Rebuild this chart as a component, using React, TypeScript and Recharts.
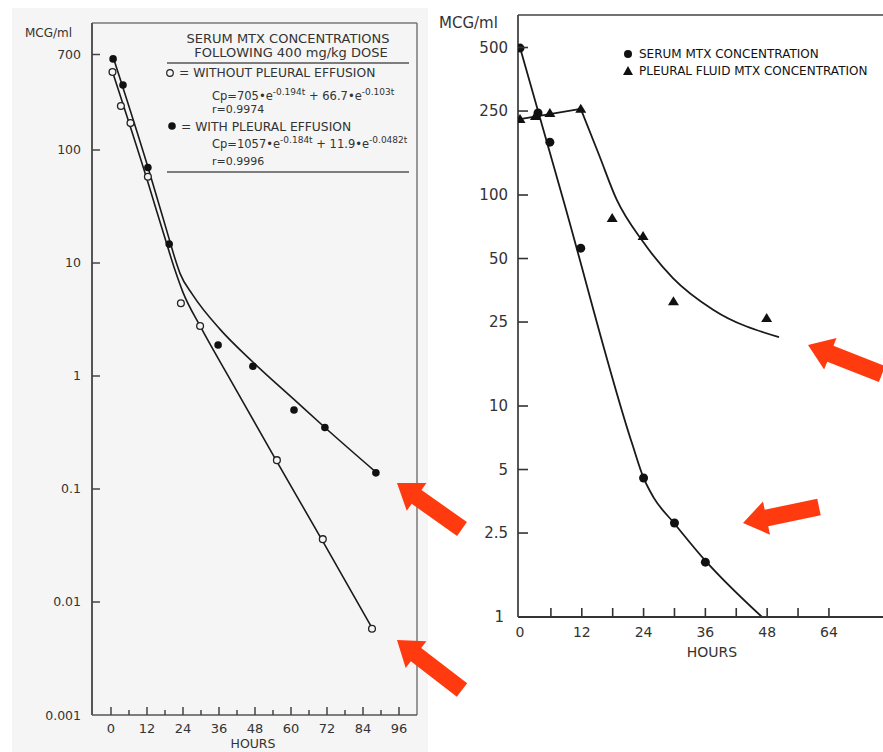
import React from 'react';
import { ComposedChart, Line, Scatter, XAxis, YAxis, ReferenceLine } from 'recharts';

// ---- left panel: serum MTX after 400 mg/kg, log scale ----
const leftOpenHours = [0.5, 3.3, 6.5, 12.3, 23.3, 29.7, 55.3, 70.6, 87];
const leftOpenConc = [490, 245, 173, 58, 4.4, 2.77, 0.18, 0.036, 0.0058];
const leftFilledHours = [0.7, 4, 12.3, 19.4, 35.7, 47.3, 61, 71.3, 88.3];
const leftFilledConc = [640, 376, 70, 14.7, 1.88, 1.22, 0.5, 0.35, 0.139];

// fitted curves as drawn on the plot
const leftOpenFitHours = [0.3, 12, 18.7, 21.3, 24, 29.7, 40, 55.3, 70.7, 87];
const leftOpenFitConc = [510, 55, 14.4, 8.7, 5.5, 2.77, 0.905, 0.175, 0.034, 0.0059];
const leftFilledFitHours = [0.7, 12.3, 19.7, 21.3, 23, 27.3, 36.3, 47.3, 61, 71.3, 88.3];
const leftFilledFitConc = [665, 70.7, 15.3, 11, 8.1, 5.2, 2.6, 1.33, 0.62, 0.35, 0.141];

const leftXTicks = [0, 6, 12, 18, 24, 30, 36, 42, 48, 54, 60, 66, 72, 78, 84, 90, 96];
const leftYTicks = [0.001, 0.01, 0.1, 1, 10, 100, 700];

// ---- right panel: serum vs pleural fluid ----
const rightSerumHours = [0, 3.5, 5.8, 11.8, 24, 30, 36];
const rightSerumConc = [497, 245, 178, 56, 4.56, 2.79, 1.82];
const rightPleuralHours = [0, 3, 5.8, 11.8, 17.9, 23.9, 29.8, 47.9];
const rightPleuralConc = [229, 237, 245, 256, 77.8, 64, 31.4, 26.1];

const serumFitHours = [0, 8.4, 21.8, 24, 25.9, 29.9, 35.9, 47];
const serumFitConc = [500, 95, 6.6, 4.56, 3.7, 2.79, 1.86, 1];
const pleuralRiseHours = [0, 11.8];
const pleuralRiseConc = [229, 256];
const pleuralFallHours = [11.8, 15.3, 18.8, 23.9, 29.7, 37.5, 50.3];
const pleuralFallConc = [256, 156, 94.7, 60, 40.4, 28.6, 21.2];

const rightXTicks = [0, 6, 12, 18, 24, 30, 36, 42, 48, 54, 60];
const rightXLabels: Record<number, string> = { 0: '0', 12: '12', 24: '24', 36: '36', 48: '48', 60: '64' };
const rightYTicks = [1, 2.5, 5, 10, 25, 50, 100, 250, 500];

const rows = (hs: number[], vs: number[]) => hs.map((t, i) => ({ t, v: vs[i] }));

const FONT = '"DejaVu Sans", sans-serif';
const INK = '#1a1a1a';
const TXT = '#333';

const LeftXTick = (props: any) => {
  const { x, y, payload } = props;
  const v = payload.value;
  const major = v % 12 === 0;
  return (
    <g>
      <line x1={x} x2={x} y1={y} y2={y - (major ? 8 : 5)} stroke="#444" strokeWidth={1.5} />
      {major && (
        <text x={x} y={y + 18} textAnchor="middle" fontSize={13} fontFamily={FONT} fill={TXT}>
          {v}
        </text>
      )}
    </g>
  );
};

const LeftYTick = (props: any) => {
  const { x, y, payload } = props;
  const v = payload.value;
  return (
    <g>
      {v > 0.001 && <line x1={x} x2={x + 8} y1={y} y2={y} stroke="#444" strokeWidth={1.5} />}
      <text x={x - 11} y={y} dy="0.36em" textAnchor="end" fontSize={12.5} fontFamily={FONT} fill={TXT}>
        {String(v)}
      </text>
    </g>
  );
};

const RightXTick = (props: any) => {
  const { x, y, payload } = props;
  const v = payload.value;
  const label = rightXLabels[v];
  return (
    <g>
      {v > 0 && <line x1={x} x2={x} y1={y} y2={y - 9} stroke="#333" strokeWidth={1.6} />}
      {label && (
        <text x={x} y={y + 20} textAnchor="middle" fontSize={14} fontFamily={FONT} fill={TXT}>
          {label}
        </text>
      )}
    </g>
  );
};

const RightYTick = (props: any) => {
  const { x, y, payload } = props;
  const v = payload.value;
  return (
    <g>
      {v > 1 && <line x1={x} x2={x + 10} y1={y} y2={y} stroke="#333" strokeWidth={1.6} />}
      <text x={x - (v > 1 ? 10 : 14)} y={y} dy="0.36em" textAnchor="end" fontSize={15} fontFamily={FONT} fill={TXT}>
        {String(v)}
      </text>
    </g>
  );
};

const OpenDot = (p: any) => <circle cx={p.cx} cy={p.cy} r={3.4} fill="#f5f5f5" stroke="#222" strokeWidth={1.3} />;
const FilledDot = (p: any) => <circle cx={p.cx} cy={p.cy} r={3.8} fill="#111" />;
const BigDot = (p: any) => <circle cx={p.cx} cy={p.cy} r={4.5} fill="#111" />;
const Tri = (p: any) => (
  <polygon
    points={`${p.cx},${p.cy - 5} ${p.cx - 5.5},${p.cy + 4} ${p.cx + 5.5},${p.cy + 4}`}
    fill="#111"
  />
);

function arrow(tip: number[], tail: number[]) {
  const dx = tail[0] - tip[0];
  const dy = tail[1] - tip[1];
  const len = Math.hypot(dx, dy);
  const ux = dx / len;
  const uy = dy / len;
  const px = -uy;
  const py = ux;
  const hl = 24;
  const hw = 17;
  const sw = 8.5;
  const bx = tip[0] + ux * hl;
  const by = tip[1] + uy * hl;
  const pts = [
    [tip[0], tip[1]],
    [bx + px * hw, by + py * hw],
    [bx + px * sw, by + py * sw],
    [tail[0] + px * sw, tail[1] + py * sw],
    [tail[0] - px * sw, tail[1] - py * sw],
    [bx - px * sw, by - py * sw],
    [bx - px * hw, by - py * hw],
  ];
  return pts.map((q) => q.join(',')).join(' ');
}

const arrows = [
  [[397, 483], [462, 529]],
  [[397, 640], [462, 690]],
  [[808, 345], [882, 374]],
  [[743, 523], [819, 507]],
];

function LeftPanel() {
  return (
    <ComposedChart width={440} height={752} margin={{ top: 23, right: 23, bottom: 7, left: 32 }}>
      <XAxis
        dataKey="t"
        type="number"
        domain={[-6.33, 102]}
        ticks={leftXTicks}
        interval={0}
        tickSize={0}
        tickMargin={0}
        tickLine={false}
        tick={<LeftXTick />}
        height={30}
        axisLine={{ stroke: '#555', strokeWidth: 1.6 }}
        allowDataOverflow
      />
      <YAxis
        dataKey="v"
        type="number"
        scale="log"
        domain={[0.001, 1330]}
        ticks={leftYTicks}
        interval={0}
        tickSize={0}
        tickMargin={0}
        tickLine={false}
        tick={<LeftYTick />}
        width={60}
        axisLine={{ stroke: '#555', strokeWidth: 2 }}
        allowDataOverflow
      />
      <ReferenceLine x={102} stroke="#777" strokeWidth={1.5} />
      <ReferenceLine y={1330} stroke="#777" strokeWidth={1.5} />
      <Line data={rows(leftOpenFitHours, leftOpenFitConc)} dataKey="v" type="monotone" stroke={INK} strokeWidth={1.6} dot={false} activeDot={false} isAnimationActive={false} />
      <Line data={rows(leftFilledFitHours, leftFilledFitConc)} dataKey="v" type="monotone" stroke={INK} strokeWidth={1.6} dot={false} activeDot={false} isAnimationActive={false} />
      <Scatter data={rows(leftOpenHours, leftOpenConc)} dataKey="v" shape={OpenDot} isAnimationActive={false} />
      <Scatter data={rows(leftFilledHours, leftFilledConc)} dataKey="v" shape={FilledDot} isAnimationActive={false} />
    </ComposedChart>
  );
}

function RightPanel() {
  return (
    <ComposedChart width={443} height={680} margin={{ top: 15, right: 0, bottom: 23, left: 28 }}>
      <XAxis
        dataKey="t"
        type="number"
        domain={[-0.39, 70.5]}
        ticks={rightXTicks}
        interval={0}
        tickSize={0}
        tickMargin={0}
        tickLine={false}
        tick={<RightXTick />}
        height={40}
        axisLine={{ stroke: '#333', strokeWidth: 1.8 }}
        allowDataOverflow
      />
      <YAxis
        dataKey="v"
        type="number"
        scale="log"
        domain={[1, 713]}
        ticks={rightYTicks}
        interval={0}
        tickSize={0}
        tickMargin={0}
        tickLine={false}
        tick={<RightYTick />}
        width={50}
        axisLine={{ stroke: '#444', strokeWidth: 1.8 }}
        allowDataOverflow
      />
      <ReferenceLine y={713} stroke="#444" strokeWidth={1.6} />
      <Line data={rows(serumFitHours, serumFitConc)} dataKey="v" type="monotone" stroke={INK} strokeWidth={1.8} dot={false} activeDot={false} isAnimationActive={false} />
      <Line data={rows(pleuralRiseHours, pleuralRiseConc)} dataKey="v" type="linear" stroke={INK} strokeWidth={1.8} dot={false} activeDot={false} isAnimationActive={false} />
      <Line data={rows(pleuralFallHours, pleuralFallConc)} dataKey="v" type="monotone" stroke={INK} strokeWidth={1.8} dot={false} activeDot={false} isAnimationActive={false} />
      <Scatter data={rows(rightSerumHours, rightSerumConc)} dataKey="v" shape={BigDot} isAnimationActive={false} />
      <Scatter data={rows(rightPleuralHours, rightPleuralConc)} dataKey="v" shape={Tri} isAnimationActive={false} />
    </ComposedChart>
  );
}

export default function App() {
  return (
    <div style={{ position: 'absolute', left: 0, top: 0, width: 883, height: 752, background: '#fff', overflow: 'hidden' }}>
      <div style={{ position: 'absolute', left: 12, top: 8, width: 416, height: 744, background: '#f5f5f5' }} />
      <div style={{ position: 'absolute', left: 0, top: 0 }}>
        <LeftPanel />
      </div>
      <div style={{ position: 'absolute', left: 440, top: 0 }}>
        <RightPanel />
      </div>
      <svg width={883} height={752} style={{ position: 'absolute', left: 0, top: 0, pointerEvents: 'none' }} fontFamily={FONT}>
        {/* left panel labels and legend */}
        <text x={25} y={37} fontSize={12} fill={TXT}>MCG/ml</text>
        <text x={253} y={748} fontSize={12.5} fill={TXT} textAnchor="middle">HOURS</text>
        <text x={288} y={43} fontSize={13} fill={TXT} textAnchor="middle">SERUM MTX CONCENTRATIONS</text>
        <text x={291} y={57} fontSize={13} fill={TXT} textAnchor="middle">FOLLOWING 400 mg/kg DOSE</text>
        <line x1={167} x2={409} y1={63} y2={63} stroke="#555" strokeWidth={1.3} />
        <circle cx={170} cy={73} r={3.3} fill="#f5f5f5" stroke="#222" strokeWidth={1.2} />
        <text x={179} y={77} fontSize={12.3} fill={TXT}>= WITHOUT PLEURAL EFFUSION</text>
        <text x={212} y={100} fontSize={11.5} fill={TXT}>
          Cp=705•e<tspan dy={-5} fontSize={9}>-0.194t</tspan>
          <tspan dy={5}> + 66.7•e</tspan>
          <tspan dy={-5} fontSize={9}>-0.103t</tspan>
        </text>
        <text x={212} y={113} fontSize={11} fill={TXT}>r=0.9974</text>
        <circle cx={172} cy={126} r={3.8} fill="#111" />
        <text x={181} y={131} fontSize={12.3} fill={TXT}>= WITH PLEURAL EFFUSION</text>
        <text x={212} y={148} fontSize={11.5} fill={TXT}>
          Cp=1057•e<tspan dy={-5} fontSize={9}>-0.184t</tspan>
          <tspan dy={5}> + 11.9•e</tspan>
          <tspan dy={-5} fontSize={9}>-0.0482t</tspan>
        </text>
        <text x={212} y={165} fontSize={11} fill={TXT}>r=0.9996</text>
        <line x1={167} x2={409} y1={172} y2={172} stroke="#555" strokeWidth={1.3} />

        {/* right panel labels and legend */}
        <text x={439} y={28} fontSize={15} fill={TXT}>MCG/ml</text>
        <text x={712} y={657} fontSize={14} fill={TXT} textAnchor="middle">HOURS</text>
        <circle cx={628} cy={54} r={4} fill="#111" />
        <text x={639} y={58} fontSize={12} fill="#111">SERUM MTX CONCENTRATION</text>
        <polygon points="628,66 623,75 633,75" fill="#111" />
        <text x={639} y={75} fontSize={12} fill="#111">PLEURAL FLUID MTX CONCENTRATION</text>

        {arrows.map((a, i) => (
          <polygon key={i} points={arrow(a[0], a[1])} fill="#ff3a0e" />
        ))}
      </svg>
    </div>
  );
}
